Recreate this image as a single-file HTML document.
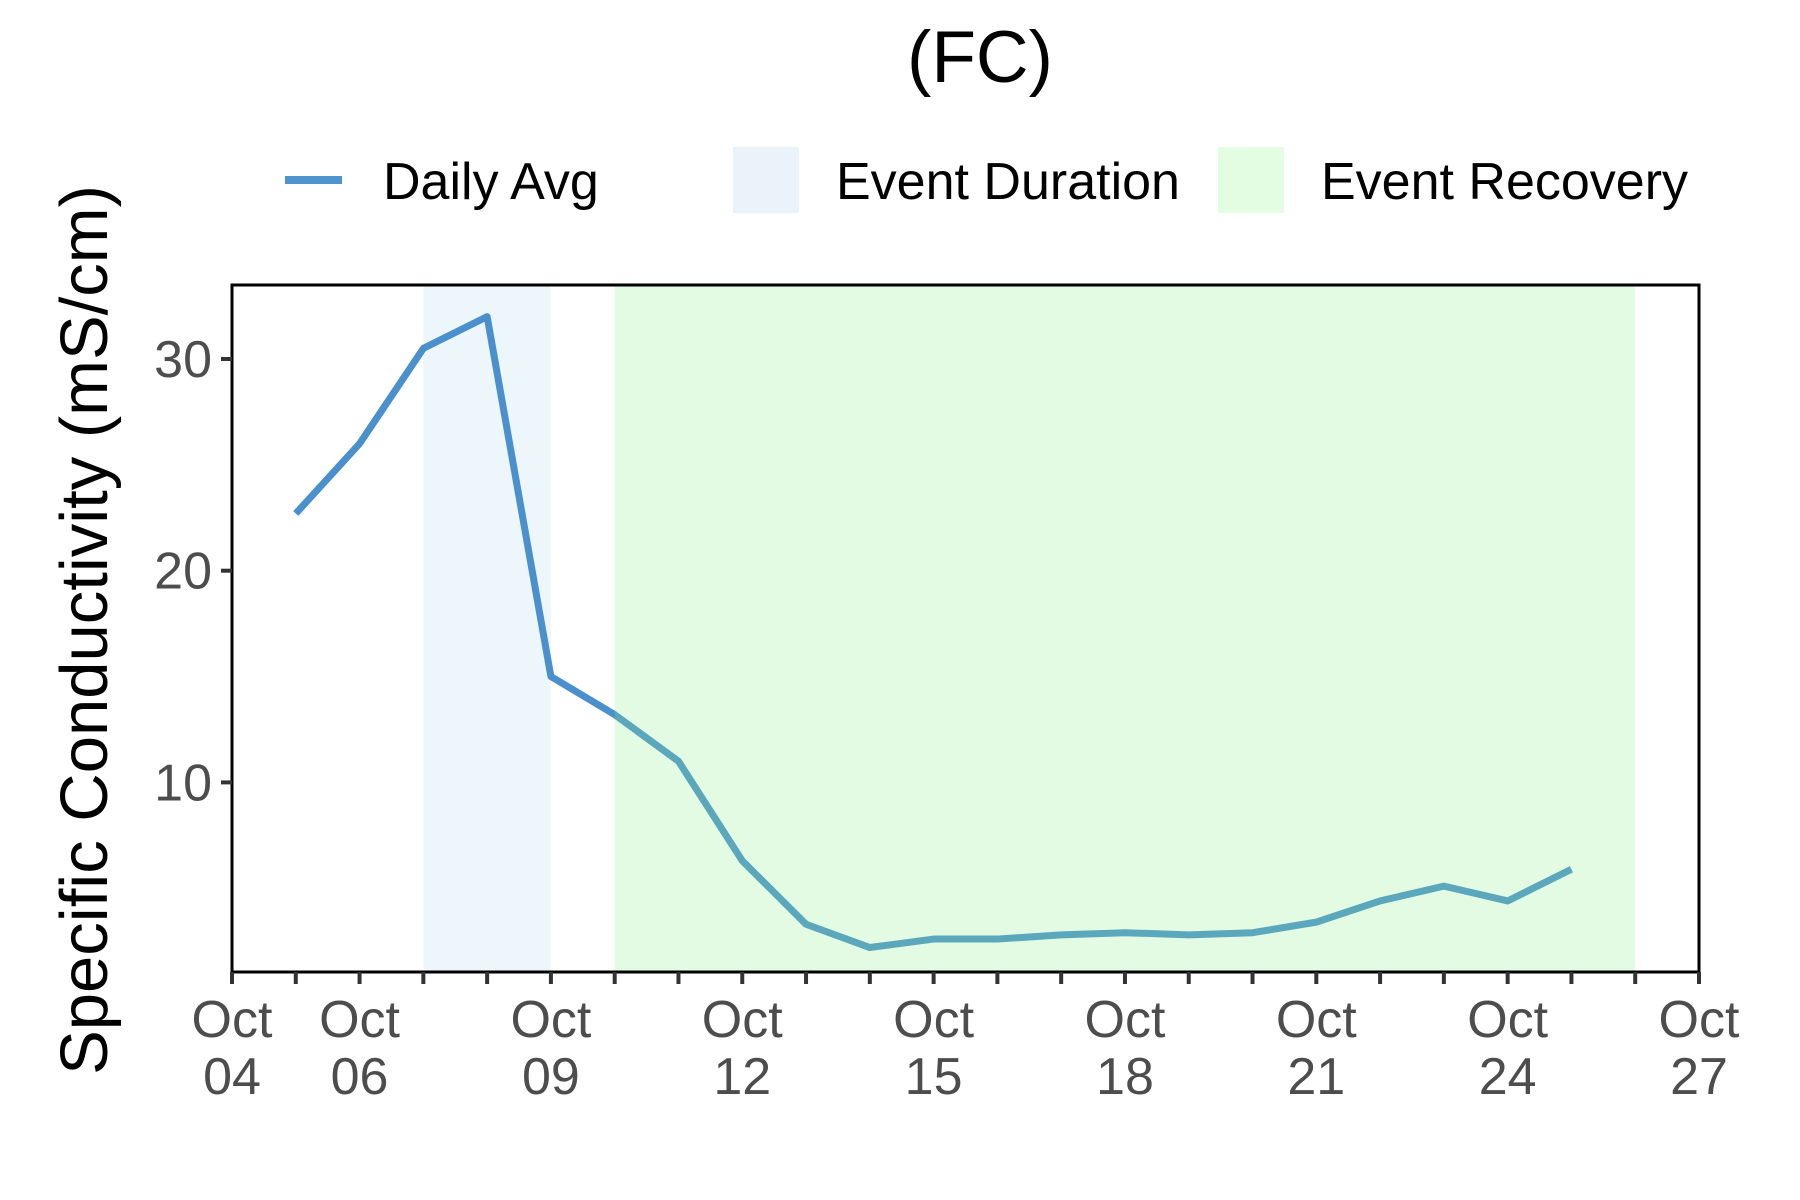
<!DOCTYPE html>
<html><head><meta charset="utf-8"><style>body{margin:0;background:#fff}svg{display:block;font-family:"Liberation Sans",sans-serif}</style></head>
<body>
<svg id="chart" width="1800" height="1200" viewBox="0 0 1800 1200">
<text x="980" y="82" font-size="73" text-anchor="middle">(FC)</text>
<g>
<line x1="285" y1="180" x2="342" y2="180" stroke="#4f94cf" stroke-width="8"/>
<text x="383" y="199" font-size="52">Daily Avg</text>
<rect x="733" y="147" width="66" height="66" fill="#ebf3fa"/>
<text x="836" y="199" font-size="52">Event Duration</text>
<rect x="1218" y="147" width="66" height="66" fill="#e3fde3"/>
<text x="1321" y="199" font-size="52">Event Recovery</text>
</g>
<text transform="translate(107,630) rotate(-90)" font-size="67" text-anchor="middle">Specific Conductivity (mS/cm)</text>
<g id="plot"></g>
</svg>
<script>
const days = [5,6,7,8,9,10,11,12,13,14,15,16,17,18,19,20,21,22,23,24,25];
const values = [22.7,26,30.5,32,15,13.2,11,6.3,3.3,2.2,2.6,2.6,2.8,2.9,2.8,2.9,3.4,4.4,5.1,4.4,5.9];
const eventDuration = [7,9];
const eventRecovery = [10,26];
const yTicks = [10,20,30];
const xLabelDays = [4,6,9,12,15,18,21,24,27];
const xLabels = ["04","06","09","12","15","18","21","24","27"];

const L=232,R=1699,T=285,B=972;
const x=d=>L+(d-4)*(R-L)/23;
const y=v=>359+(30-v)*21.17;
const NS="http://www.w3.org/2000/svg";
const g=document.getElementById('plot');
function mk(tag,attrs){const e=document.createElementNS(NS,tag);for(const k in attrs)e.setAttribute(k,attrs[k]);g.appendChild(e);return e;}

let r=mk('rect',{x:x(eventDuration[0]),y:T,width:x(eventDuration[1])-x(eventDuration[0]),height:B-T,fill:'rgb(173,216,230)','fill-opacity':0.22});


let pts=days.map((d,i)=>x(d)+','+y(values[i])).join(' ');
let pl=mk('polyline',{points:pts,fill:'none',stroke:'#4a90cd','stroke-width':7,'stroke-linejoin':'round'});


let r2=mk('rect',{x:x(eventRecovery[0]),y:T,width:x(eventRecovery[1])-x(eventRecovery[0]),height:B-T,fill:'rgb(144,238,144)','fill-opacity':0.25});


let fr=mk('rect',{x:L,y:T,width:R-L,height:B-T,fill:'none',stroke:'#000','stroke-width':3});


yTicks.forEach(v=>{
  let t=mk('line',{x1:L-11,x2:L,y1:y(v),y2:y(v),stroke:'#333','stroke-width':4});
  
  
  let tx=mk('text',{x:L-20,y:y(v)+18,'font-size':52,'text-anchor':'end',fill:'#4d4d4d'});
  tx.textContent=v;
  
  
});
for(let d=4;d<=27;d++){
  let t=mk('line',{x1:x(d),x2:x(d),y1:B,y2:B+12,stroke:'#333','stroke-width':4});
  
  
}
xLabelDays.forEach((d,i)=>{
  let a=mk('text',{x:x(d),y:1037,'font-size':52,'text-anchor':'middle',fill:'#4d4d4d'});
  a.textContent='Oct';
  
  
  let b=mk('text',{x:x(d),y:1094,'font-size':52,'text-anchor':'middle',fill:'#4d4d4d'});
  b.textContent=xLabels[i];
  
  
});
</script>
</body></html>
